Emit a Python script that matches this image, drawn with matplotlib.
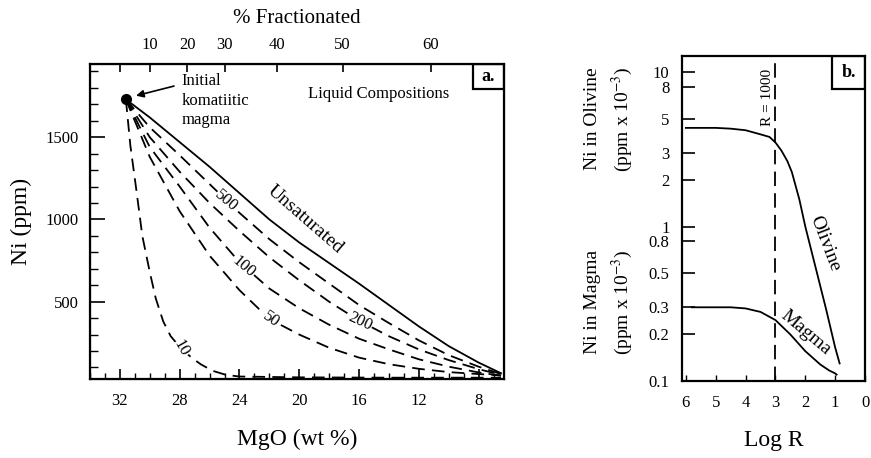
import matplotlib
matplotlib.use('Agg')
import matplotlib.pyplot as plt
from matplotlib.patches import Rectangle
from matplotlib.ticker import FixedLocator, FixedFormatter, NullLocator, MultipleLocator

plt.rcParams['font.family'] = ['Liberation Serif', 'DejaVu Serif']
plt.rcParams['mathtext.fontset'] = 'stix'

# ---- panel a: liquid compositions (MgO wt% vs Ni ppm)
start_mgo, start_ni = 31.6, 1730

unsat_mgo = [31.6, 30, 28, 26, 24, 22, 20, 18, 16, 14, 12, 10, 8, 6.5]
unsat_ni = [1730, 1620, 1470, 1320, 1160, 1000, 860, 735, 610, 480, 350, 230, 130, 65]

r500_mgo = [31.6, 30, 28, 26, 24, 22, 20, 18, 16, 14, 12, 10, 8, 6.5]
r500_ni = [1730, 1560, 1390, 1215, 1040, 880, 740, 610, 480, 370, 265, 175, 105, 60]

r200_mgo = [31.6, 30, 28, 26, 24, 22, 20, 18, 16, 14, 12, 10, 8, 6.5]
r200_ni = [1730, 1500, 1290, 1100, 930, 770, 630, 500, 385, 290, 210, 145, 90, 55]

r100_mgo = [31.6, 30, 28, 26, 24, 22, 20, 18, 16, 14, 12, 10, 8, 6.5]
r100_ni = [1730, 1440, 1200, 950, 740, 580, 460, 360, 275, 210, 150, 105, 70, 50]

r50_mgo = [31.6, 30, 28, 26, 24, 22, 20, 18, 16, 14, 12, 10, 8, 6.5]
r50_ni = [1730, 1380, 1050, 780, 570, 395, 300, 220, 160, 120, 92, 72, 60, 52]

r10_mgo = [31.6, 31.3, 30.9, 30.5, 30.0, 29.6, 29.1, 28.6, 27.9, 27.2, 26.6, 25.8,
           24.9, 24.0, 20, 14, 6.5]
r10_ni = [1730, 1450, 1180, 900, 680, 520, 380, 290, 215, 160, 120, 80,
          55, 45, 40, 38, 38]

# label text, position (MgO, Ni), rotation
curve_labels = [('Unsaturated', 19.6, 1000, -41, 14),
                ('500', 24.9, 1110, -40, 12),
                ('200', 15.9, 380, -25, 12),
                ('100', 23.7, 710, -40, 12),
                ('50', 21.9, 390, -35, 12),
                ('10', 27.9, 215, -60, 12)]

# top axis: % fractionated at MgO positions
frac_mgo = [32, 30.0, 27.5, 25.0, 21.5, 17.1, 11.2]
frac_labels = ['', '10', '20', '30', '40', '50', '60']

# ---- panel b: Ni in olivine / magma vs log R
oliv_logr = [6, 5, 4.5, 4, 3.5, 3.2, 3.0, 2.8, 2.6, 2.45, 2.2, 2.0, 1.63, 1.3, 1.0, 0.85]
oliv_ni = [4.35, 4.35, 4.3, 4.2, 3.95, 3.8, 3.5, 3.1, 2.65, 2.25, 1.5, 1.0, 0.52, 0.29, 0.165, 0.13]

magma_logr = [5.8, 5, 4.5, 4, 3.5, 3.0, 2.5, 2.0, 1.5, 1.2, 1.0, 0.95]
magma_ni = [0.3, 0.3, 0.3, 0.295, 0.28, 0.248, 0.2, 0.156, 0.128, 0.117, 0.112, 0.11]

b_ticks = [10, 8, 5, 3, 2, 1, 0.8, 0.5, 0.3, 0.2, 0.1]
b_ticklabels = ['10', '8', '5', '3', '2', '1', '0.8', '0.5', '0.3', '0.2', '0.1']
r_line = 3

W, H = 871, 458
fig = plt.figure(figsize=(W / 100, H / 100), dpi=100)

def box(l, t, r, b):
    return [l / W, 1 - b / H, (r - l) / W, (b - t) / H]

# ================= panel a
ax = fig.add_axes(box(90, 64, 504, 379))
ax.set_xlim(34, 6.3)
ax.set_ylim(30, 1945)

dash = (0, (7, 4))
ax.plot(unsat_mgo, unsat_ni, color='k', lw=1.3)
for xs, ys in [(r500_mgo, r500_ni), (r200_mgo, r200_ni), (r100_mgo, r100_ni),
               (r50_mgo, r50_ni), (r10_mgo, r10_ni)]:
    ax.plot(xs, ys, color='k', lw=1.3, linestyle=dash)
ax.plot([start_mgo], [start_ni], 'o', color='k', ms=7)

for txt, x, y, rot, fs in curve_labels:
    bb = None if txt == 'Unsaturated' else dict(fc='white', ec='none', pad=0.3)
    ax.text(x, y, txt, rotation=rot, ha='center', va='center', fontsize=fs,
            bbox=bb, rotation_mode='anchor')

ax.text(27.9, 1890, 'Initial\nkomatiitic\nmagma', ha='left', va='top',
        fontsize=12, linespacing=1.3)
ax.annotate('', xy=(31.1, 1748), xytext=(28.2, 1815),
            arrowprops=dict(arrowstyle='-|>', color='k', lw=1.2, mutation_scale=11))
ax.text(14.7, 1765, 'Liquid Compositions', ha='center', va='center', fontsize=12)

ax.xaxis.set_major_locator(MultipleLocator(4))
ax.xaxis.set_minor_locator(MultipleLocator(1))
ax.yaxis.set_major_locator(FixedLocator([500, 1000, 1500]))
ax.yaxis.set_minor_locator(MultipleLocator(100))
ax.tick_params(axis='both', which='both', direction='in', labelsize=12)
ax.tick_params(axis='x', which='major', length=7, width=1.2, pad=10)
ax.tick_params(axis='x', which='minor', length=4, width=1)
ax.tick_params(axis='y', which='major', length=11, width=1.2, pad=8)
ax.tick_params(axis='y', which='minor', length=6, width=1)
ax.set_xlabel('MgO (wt %)', fontsize=17, labelpad=14)
ax.set_ylabel('Ni (ppm)', fontsize=17, labelpad=10)
for s in ax.spines.values():
    s.set_linewidth(1.6)

ax2 = ax.twiny()
ax2.set_xlim(ax.get_xlim())
ax2.xaxis.set_major_locator(FixedLocator(frac_mgo))
ax2.xaxis.set_major_formatter(FixedFormatter(frac_labels))
ax2.xaxis.set_minor_locator(NullLocator())
ax2.tick_params(axis='x', direction='in', length=6, width=1.2, labelsize=12, pad=8)
ax2.set_xlabel('% Fractionated', fontsize=15, labelpad=10)

ax.add_patch(Rectangle((0.925, 0.92), 0.075, 0.08, transform=ax.transAxes,
                       fill=False, lw=1.6, ec='k'))
ax.text(0.9625, 0.96, 'a.', transform=ax.transAxes, ha='center', va='center',
        fontsize=13, fontweight='bold')

# ================= panel b
bx = fig.add_axes(box(682, 56, 865, 381))
bx.set_yscale('log')
bx.set_xlim(6.13, 0)
bx.set_ylim(0.1, 12.7)
bx.plot(oliv_logr, oliv_ni, color='k', lw=1.3)
bx.plot(magma_logr, magma_ni, color='k', lw=1.3)
bx.axvline(r_line, color='k', lw=1.3, linestyle=(0, (8, 4)))

bx.text(3.25, 6.8, 'R = 1000', rotation=90, ha='center', va='center', fontsize=11)
bx.text(1.33, 0.78, 'Olivine', rotation=-69, ha='center', va='center', fontsize=14)
bx.text(2.0, 0.205, 'Magma', rotation=-40, ha='center', va='center', fontsize=14)

bx.yaxis.set_major_locator(FixedLocator(b_ticks))
bx.yaxis.set_major_formatter(FixedFormatter(b_ticklabels))
bx.yaxis.set_minor_locator(NullLocator())
bx.xaxis.set_major_locator(MultipleLocator(1))
bx.tick_params(axis='y', direction='in', length=9, width=1.2, labelsize=12, pad=9)
bx.tick_params(axis='x', direction='in', length=4, width=1, labelsize=12, pad=10)
bx.set_xlabel('Log R', fontsize=17, labelpad=14)
for s in bx.spines.values():
    s.set_linewidth(1.6)

bx.add_patch(Rectangle((0.82, 0.898), 0.18, 0.102, transform=bx.transAxes,
                       fill=False, lw=1.6, ec='k'))
bx.text(0.91, 0.949, 'b.', transform=bx.transAxes, ha='center', va='center',
        fontsize=13, fontweight='bold')

fig.text(592 / W, 1 - 119 / H, 'Ni in Olivine', rotation=90, ha='center', va='center', fontsize=14)
fig.text(622 / W, 1 - 119 / H, '(ppm x 10$^{-3}$)', rotation=90, ha='center', va='center', fontsize=14)
fig.text(592 / W, 1 - 302 / H, 'Ni in Magma', rotation=90, ha='center', va='center', fontsize=14)
fig.text(622 / W, 1 - 302 / H, '(ppm x 10$^{-3}$)', rotation=90, ha='center', va='center', fontsize=14)

fig.savefig('out.png', dpi=100)
